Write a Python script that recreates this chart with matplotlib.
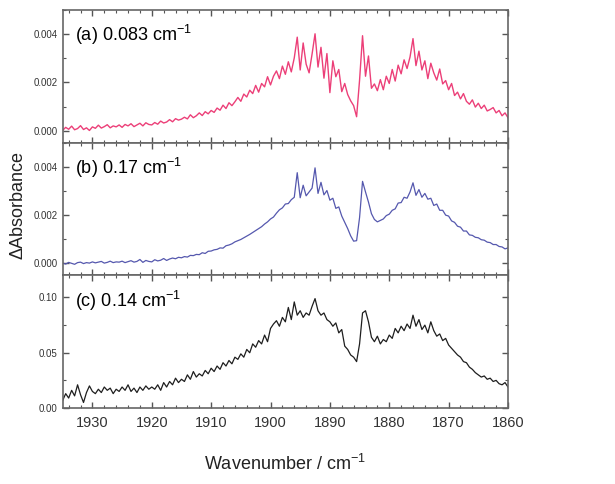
import numpy as np
import matplotlib
matplotlib.use('Agg')
import matplotlib.pyplot as plt
from matplotlib.ticker import MultipleLocator

plt.rcParams['font.family'] = ['Liberation Sans', 'DejaVu Sans']
plt.rcParams['mathtext.fontset'] = 'custom'
plt.rcParams['mathtext.rm'] = 'Liberation Sans'
plt.rcParams['mathtext.it'] = 'Liberation Sans:italic'

# wavenumber grid, 1935 -> 1860 cm-1 in 0.5 steps
wavenumber = np.arange(1935.0, 1859.75, -0.5)

# (a) 0.083 cm-1, values in units of 1e-4
dabs_a = [0.2, 1.4, 0.6, 1.9, 0.4, 0.9, 2.1, 0.5, 1.2, 0.1,
          1.6, 1.0, 2.3, 1.1, 1.7, 2.5, 1.2, 2.0, 1.6, 2.4,
          1.4, 2.6, 2.0, 2.9, 1.7, 2.4, 3.1, 2.0, 3.3, 2.6,
          2.4, 3.4, 2.7, 4.0, 3.2, 3.6, 4.6, 3.7, 5.0, 4.4,
          4.8, 5.6, 4.9, 6.6, 5.4, 6.2, 7.4, 6.3, 7.9, 7.0,
          8.4, 7.6, 9.4, 8.5, 10.6, 9.2, 11.6, 10.4, 12.0, 13.8,
          12.2, 15.2, 14.0, 16.8, 15.4, 18.8, 16.0, 19.6, 18.2, 22.4,
          19.0, 22.6, 24.8, 21.6, 26.8, 23.4, 28.6, 24.4, 30.2, 38.8,
          25.2, 36.4, 27.6, 24.0, 31.8, 40.2, 26.4, 34.6, 21.8, 32.0,
          15.8, 29.0, 22.4, 25.4, 16.2, 19.6, 15.0, 12.4, 10.4, 5.8,
          21.0, 39.4, 22.6, 31.0, 17.6, 19.4, 16.6, 21.2, 17.0, 22.6,
          19.6, 25.4, 20.6, 27.2, 23.6, 29.4, 25.8, 30.6, 38.2, 27.0,
          33.0, 25.2, 29.0, 21.6, 28.0, 24.0, 21.0, 25.6, 19.4, 20.8,
          17.0, 19.6, 14.6, 16.0, 13.2, 15.4, 12.2, 11.0, 12.8, 9.8,
          11.4, 9.2, 10.6, 8.2, 8.8, 9.6, 7.4, 8.4, 6.2, 7.4,
          5.4]

# (b) 0.17 cm-1, values in units of 1e-4
dabs_b = [0.1, -0.3, 0.4, 0.0, -0.4, 0.3, 0.5, -0.1, 0.3, 0.1,
          0.6, 0.2, 0.5, 0.8, 0.1, 0.4, 0.9, 0.3, 0.6, 0.5,
          0.9, 0.3, 0.7, 1.1, 0.5, 0.8, 1.6, 0.4, 1.2, 0.8,
          0.6, 1.5, 1.0, 1.3, 2.0, 1.2, 1.8, 2.2, 1.9, 2.5,
          2.3, 2.8, 2.6, 3.3, 3.2, 3.7, 3.6, 4.4, 4.1, 5.0,
          5.1, 5.6, 5.8, 6.4, 6.3, 7.3, 7.6, 8.1, 8.9, 9.4,
          9.9, 10.6, 11.3, 12.0, 12.8, 13.6, 14.4, 15.2, 16.3, 17.2,
          18.4, 19.2, 20.8, 22.2, 23.0, 24.6, 24.8, 26.4, 27.4, 37.6,
          27.2, 32.4, 28.0, 29.6, 31.2, 39.6, 29.0, 33.6, 28.4, 30.2,
          26.2, 27.0, 22.8, 23.4, 19.6, 17.0, 14.4, 11.4, 9.2, 9.4,
          19.0, 34.0, 29.6, 25.4, 20.6, 18.2, 17.2, 17.8, 18.4, 19.8,
          20.4, 22.0, 22.6, 25.0, 25.2, 27.4, 27.0, 29.6, 33.4, 28.2,
          30.6, 27.4, 29.0, 26.6, 27.0, 24.0, 24.6, 22.0, 22.0, 20.0,
          19.6, 17.6, 17.0, 15.4, 15.0, 13.4, 13.4, 11.8, 11.6, 10.8,
          10.6, 9.8, 9.6, 8.8, 8.6, 7.8, 7.8, 7.0, 6.8, 6.0,
          6.4]

# (c) 0.14 cm-1, values in units of 1e-3
dabs_c = [7, 13, 9, 16, 11, 21, 12, 5, 14, 20,
          15, 13, 17, 14, 19, 16, 18, 13, 17, 15,
          19, 16, 21, 15, 18, 14, 19, 16, 20, 17,
          19, 17, 21, 16, 23, 19, 24, 21, 27, 23,
          26, 24, 30, 26, 33, 28, 31, 29, 34, 31,
          36, 33, 38, 35, 41, 38, 43, 40, 46, 44,
          49, 46, 53, 50, 58, 55, 61, 58, 66, 60,
          72, 76, 79, 74, 82, 78, 91, 80, 96, 84,
          88, 82, 86, 84, 92, 99, 88, 84, 86, 80,
          78, 74, 77, 68, 71, 56, 53, 48, 46, 42,
          58, 86, 88, 78, 64, 60, 65, 58, 62, 60,
          66, 63, 72, 68, 74, 70, 76, 72, 84, 74,
          80, 71, 75, 68, 78, 70, 65, 67, 61, 63,
          57, 54, 51, 48, 46, 42, 41, 37, 35, 32,
          30, 28, 29, 26, 27, 24, 25, 22, 21, 23,
          19]

labels = ['(a) 0.083 cm$^{-1}$', '(b) 0.17 cm$^{-1}$', '(c) 0.14 cm$^{-1}$']
colors = ['#ec3f78', '#5558ae', '#1e1e1e']
widths = [1.0, 0.9, 0.9]
series = [np.array(dabs_a) * 1e-4, np.array(dabs_b) * 1e-4, np.array(dabs_c) * 1e-3]

fig, axes = plt.subplots(3, 1, sharex=True, figsize=(6.15, 4.84), dpi=100)
fig.subplots_adjust(left=0.102, right=0.826, top=0.979, bottom=0.157, hspace=0)

for ax, y, c, w, lab in zip(axes, series, colors, widths, labels):
    ax.plot(wavenumber, y, color=c, lw=w)
    ax.text(0.027, 0.81, lab, transform=ax.transAxes, fontsize=13, va='center')
    ax.tick_params(which='both', direction='in', top=True, right=True, color='#555555')
    ax.tick_params(which='major', length=4.5, width=1, labelsize=7, labelcolor='#333333')
    ax.tick_params(which='minor', length=2.5, width=0.8)
    for s in ax.spines.values():
        s.set_color('#666666')
        s.set_linewidth(1.2)

for ax in axes[:2]:
    ax.set_ylim(-0.0005, 0.005)
    ax.yaxis.set_major_locator(MultipleLocator(0.002))
    ax.yaxis.set_minor_locator(MultipleLocator(0.001))
    ax.yaxis.set_major_formatter(plt.FormatStrFormatter('%.3f'))

axes[2].set_ylim(0, 0.12)
axes[2].yaxis.set_major_locator(MultipleLocator(0.05))
axes[2].yaxis.set_minor_locator(MultipleLocator(0.025))
axes[2].yaxis.set_major_formatter(plt.FormatStrFormatter('%.2f'))

axes[2].set_xlim(1935, 1860)
axes[2].xaxis.set_major_locator(MultipleLocator(10))
axes[2].xaxis.set_minor_locator(MultipleLocator(2))
axes[2].tick_params(axis='x', which='major', labelsize=10.5, pad=6)

axes[2].set_xlabel('Wavenumber / cm$^{-1}$', fontsize=13, labelpad=17, color='#222222')
fig.text(0.03, 0.576, '\u0394Absorbance', rotation=90, fontsize=13,
         ha='center', va='center', color='#222222')

fig.savefig('out.png', dpi=100)
